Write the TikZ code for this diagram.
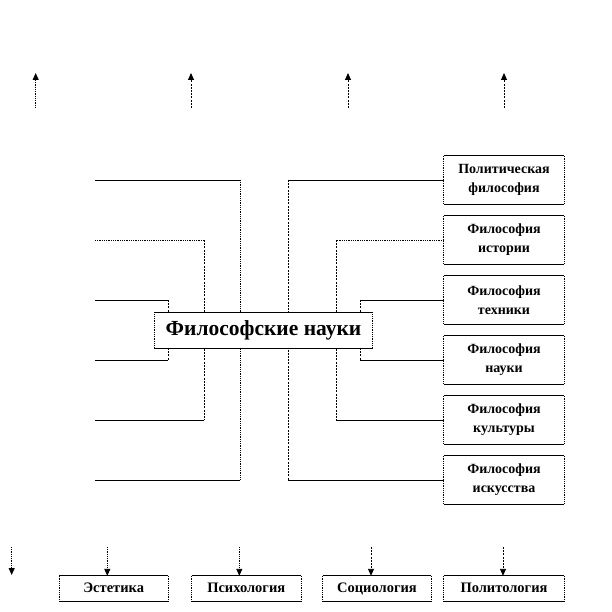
\documentclass[tikz,border=0pt]{standalone}
\usepackage{fontspec}
\setmainfont{Liberation Serif}
\usetikzlibrary{arrows.meta}
\newcommand\sidesbox[1]{%
  \draw[solidln] (#1.north west) -- (#1.north east) (#1.south west) -- (#1.south east);
  \draw[dotln] (#1.north west) -- (#1.south west) (#1.north east) -- (#1.south east);}
\begin{document}
\begin{tikzpicture}[x=1pt,y=-1pt,
  solidln/.style={line width=0.9pt},
  dotln/.style={line width=0.9pt, dash pattern=on 0.9pt off 0.9pt},
  dashln/.style={line width=0.9pt, dash pattern=on 2pt off 1.2pt},
  arr/.style={-{Triangle[length=7pt,width=6pt]}},
  sidebox/.style={fill=white, minimum width=120pt, minimum height=48pt, inner sep=0pt, align=center,
    font=\fontsize{14}{19}\selectfont\bfseries},
  botbox/.style={fill=white, minimum height=25pt, inner sep=0pt, text height=10pt, text depth=3pt,
    font=\fontsize{14.5}{16}\selectfont\bfseries},
  mainbox/.style={fill=white, minimum width=217pt, minimum height=36pt, inner sep=0pt,
    font=\fontsize{21.5}{24}\selectfont\bfseries}]
\useasboundingbox (0,0) rectangle (612,612);

% free ends on the left
\foreach \i/\y in {1/180,2/240,3/300,4/360,5/420,6/480}
  \coordinate (L\i) at (95,\y);
% corner points of the brackets
\coordinate (LV1a) at (240,180); \coordinate (LV1b) at (240,480);
\coordinate (LV2a) at (204,240); \coordinate (LV2b) at (204,420);
\coordinate (LV3a) at (168,300); \coordinate (LV3b) at (168,360);
\coordinate (RV1a) at (288,180); \coordinate (RV1b) at (288,480);
\coordinate (RV2a) at (336,240); \coordinate (RV2b) at (336,420);
\coordinate (RV3a) at (360,300); \coordinate (RV3b) at (360,360);

% right boxes
\node[sidebox] (R1) at (504,180) {Политическая\\философия};
\node[sidebox] (R2) at (504,240) {Философия\\истории};
\node[sidebox] (R3) at (504,300) {Философия\\техники};
\node[sidebox] (R4) at (504,360) {Философия\\науки};
\node[sidebox] (R5) at (504,420) {Философия\\культуры};
\node[sidebox] (R6) at (504,480) {Философия\\искусства};

% left brackets
\draw[solidln] (L1) -- (LV1a);
\draw[dotln] (LV1a) -- (LV1b);
\draw[solidln] (LV1b) -- (L6);
\draw[dotln] (L2) -- (LV2a);
\draw[dashln] (LV2a) -- (LV2b);
\draw[solidln] (LV2b) -- (L5);
\draw[solidln] (L3) -- (LV3a);
\draw[dashln] (LV3a) -- (LV3b);
\draw[solidln] (LV3b) -- (L4);

% right brackets
\draw[solidln] (R1.west) -- (RV1a);
\draw[dashln] (RV1a) -- (RV1b);
\draw[solidln] (RV1b) -- (R6.west);
\draw[dotln] (R2.west) -- (RV2a);
\draw[dashln] (RV2a) -- (RV2b);
\draw[solidln] (RV2b) -- (R5.west);
\draw[solidln] (R3.west) -- (RV3a);
\draw[dashln] (RV3a) -- (RV3b);
\draw[solidln] (RV3b) -- (R4.west);

% central box
\node[mainbox] (M) at (263.5,330.5) {Философские науки};
\sidesbox{M}
\foreach \n in {R1,R2,R3,R4,R5,R6} {\sidesbox{\n}}

% top arrows
\foreach \i/\x in {1/35.7,2/191,3/348,4/504} {
  \coordinate (T\i) at (\x,108);
  \coordinate (TT\i) at (\x,73);
}
\draw[arr,dotln] (T1) -- (TT1);
\draw[arr,dashln] (T2) -- (TT2);
\draw[arr,dashln] (T3) -- (TT3);
\draw[arr,dashln] (T4) -- (TT4);

% bottom boxes
\node[botbox, minimum width=109pt] (B1) at (113.75,588.5) {Эстетика};
\node[botbox, minimum width=109pt] (B2) at (246.25,588.5) {Психология};
\node[botbox, minimum width=108pt] (B3) at (377,588.5) {Социология};
\node[botbox, minimum width=120pt] (B4) at (504,588.5) {Политология};
\foreach \n in {B1,B2,B3,B4} {\sidesbox{\n}}

% bottom arrows
\coordinate (D0) at (11.7,547); \coordinate (DE0) at (11.7,575);
\coordinate (D1) at (107.3,547);
\coordinate (D2) at (239.3,547);
\coordinate (D3) at (371,547);
\coordinate (D4) at (503,547);
\draw[arr,dotln] (D0) -- (DE0);
\draw[arr,dotln] (D1) -- (D1 |- B1.north);
\draw[arr,dotln] (D2) -- (D2 |- B2.north);
\draw[arr,dashln] (D3) -- (D3 |- B3.north);
\draw[arr,dashln] (D4) -- (D4 |- B4.north);
\end{tikzpicture}
\end{document}
